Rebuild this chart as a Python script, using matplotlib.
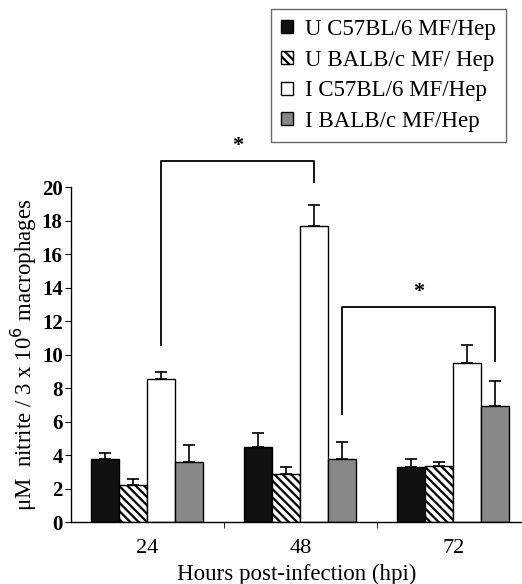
import matplotlib.pyplot as plt
import numpy as np

plt.rcParams["font.family"] = ["Liberation Serif", "DejaVu Serif"]
plt.rcParams["hatch.linewidth"] = 1.6

# Data
hours = ["24", "48", "72"]
groups = ["U C57BL/6 MF/Hep", "U BALB/c MF/ Hep", "I C57BL/6 MF/Hep", "I BALB/c MF/Hep"]
u_c57 = [3.8, 4.5, 3.3]
u_c57_err = [0.3, 0.8, 0.5]
u_balb = [2.2, 2.9, 3.35]
u_balb_err = [0.35, 0.4, 0.25]
i_c57 = [8.55, 17.7, 9.5]
i_c57_err = [0.4, 1.25, 1.1]
i_balb = [3.6, 3.8, 6.95]
i_balb_err = [1.0, 1.0, 1.5]

means = [u_c57, u_balb, i_c57, i_balb]
errs = [u_c57_err, u_balb_err, i_c57_err, i_balb_err]
colors = ["#111111", "white", "white", "#888888"]
hatches = [None, "\\\\\\\\", None, None]

fig = plt.figure(figsize=(5.22, 5.84), dpi=100)
ax = fig.add_axes([0.136, 0.106, 0.864, 0.573])

x = np.arange(len(hours))
w = 0.183
offsets = (np.arange(4) - 1.5) * w

handles = []
for k in range(4):
    bars = ax.bar(x + offsets[k], means[k], w, color=colors[k], edgecolor="black",
                  linewidth=1.0, hatch=hatches[k], label=groups[k], zorder=2)
    ax.errorbar(x + offsets[k], means[k], yerr=[np.zeros(3), errs[k]], fmt="none",
                ecolor="black", elinewidth=1.2, capsize=4, capthick=1.2, zorder=1)
    handles.append(bars)

# significance brackets (between bar centres)
def bracket(i0, k0, i1, k1, top, y0, y1, star_y):
    xa = x[i0] + offsets[k0]
    xb = x[i1] + offsets[k1]
    ax.plot([xa, xa, xb, xb], [y0, top, top, y1], color="black", lw=1.3, clip_on=False)
    ax.text((xa + xb) / 2, star_y, "*", ha="center", va="center", fontsize=16,
            fontweight="bold", clip_on=False)

bracket(0, 2, 1, 2, 21.6, 10.6, 20.3, 22.5)
bracket(1, 3, 2, 3, 12.85, 6.45, 9.6, 13.75)

ax.set_ylim(0, 20)
ax.set_xlim(-0.5, 2.45)
ax.set_yticks(range(0, 21, 2))
ax.set_yticklabels([str(v) for v in range(0, 21, 2)], fontsize=15, fontweight="bold")
ax.set_xticks(x)
ax.set_xticklabels(hours, fontsize=16)
ax.set_xticks([0.5, 1.5], minor=True)
ax.tick_params(axis="x", which="major", length=0, pad=12)
ax.tick_params(axis="x", which="minor", length=4, direction="out")
ax.tick_params(axis="y", length=4, direction="out", pad=2)
for s in ["top", "right"]:
    ax.spines[s].set_visible(False)
ax.spines["left"].set_linewidth(1.0)
ax.spines["bottom"].set_linewidth(1.0)

ax.set_ylabel(r"$\mathregular{\mu M}$  nitrite / 3 x 10$^{6}$ macrophages", fontsize=16.5, labelpad=2)
ax.set_xlabel("Hours post-infection (hpi)", fontsize=16.5, labelpad=4)

fig.legend(handles=handles, loc="upper right", bbox_to_anchor=(0.97, 0.985),
           fontsize=16.5, frameon=True, fancybox=False, edgecolor="#444444",
           handlelength=0.5, handleheight=0.5, handletextpad=0.55,
           borderpad=0.45, labelspacing=0.42, borderaxespad=0.0)

fig.savefig("out.png", dpi=100)
